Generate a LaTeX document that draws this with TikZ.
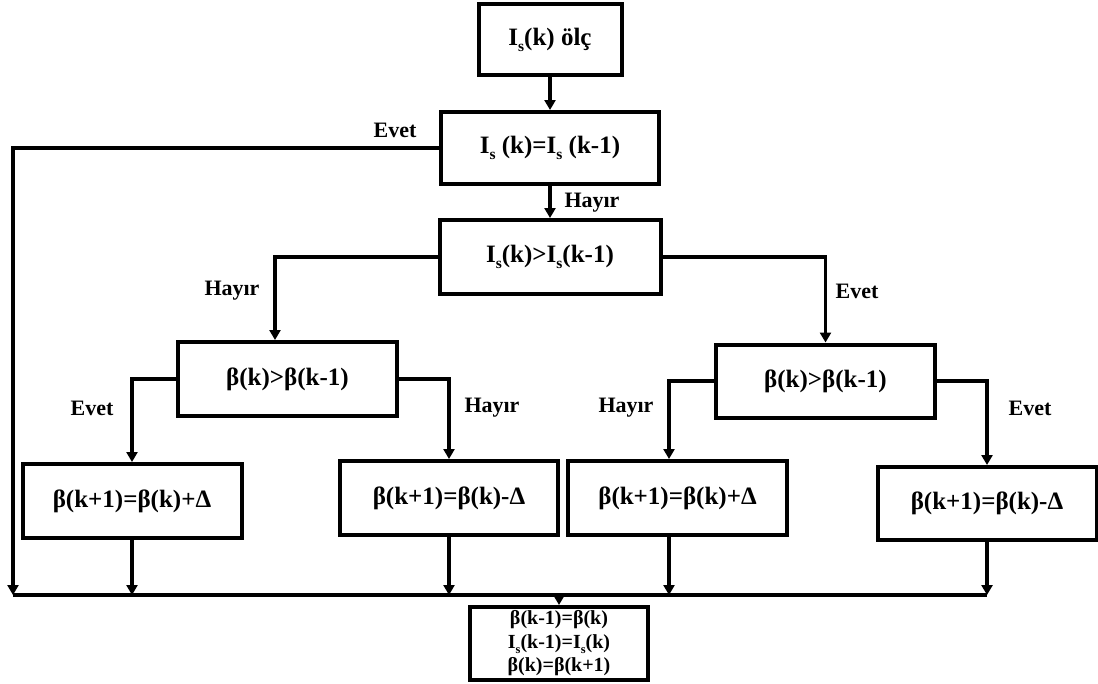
\documentclass[tikz,border=0pt]{standalone}
\usepackage{fontspec}
\usepackage{graphicx}
\setmainfont{Liberation Serif}
\usetikzlibrary{arrows.meta}
% lowered small index letter, as in I_s
\newcommand{\sidx}[1]{\raisebox{-0.24em}{\scalebox{0.62}{#1}}}
\begin{document}
\begin{tikzpicture}[x=1pt,y=-1pt,
  box/.style={draw, line width=4pt, inner sep=0pt, align=center,
    font=\bfseries\fontsize{25}{29}\selectfont},
  wire/.style={line width=3.3pt},
  conn/.style={line width=3.5pt, -{Triangle[width=11pt,length=10pt]}},
  lbl/.style={font=\bfseries\fontsize{22}{25}\selectfont, inner sep=0pt}]
\useasboundingbox (0,0) rectangle (1098,683);

% process and decision boxes
\node[box, minimum width=143pt, minimum height=71pt] (meas) at (550,39.5) {I\sidx{s}(k) ölç};
\node[box, minimum width=218pt, minimum height=72pt] (eq)   at (550,148) {I\sidx{s} (k)=I\sidx{s} (k-1)};
\node[box, minimum width=221pt, minimum height=74pt] (gt)   at (550,257) {I\sidx{s}(k)>I\sidx{s}(k-1)};
\node[box, minimum width=219pt, minimum height=74pt] (bl)   at (287.5,379) {β(k)>β(k-1)};
\node[box, minimum width=219pt, minimum height=73pt] (br)   at (825.5,381) {β(k)>β(k-1)};
\node[box, minimum width=219pt, minimum height=74pt] (u1)   at (132,501) {β(k+1)=β(k)+Δ};
\node[box, minimum width=218pt, minimum height=74pt] (u2)   at (449,498) {β(k+1)=β(k)-Δ};
\node[box, minimum width=219pt, minimum height=74pt] (u3)   at (677.5,498) {β(k+1)=β(k)+Δ};
\node[box, minimum width=219pt, minimum height=73pt] (u4)   at (987,503.5) {β(k+1)=β(k)-Δ};
\node[box, minimum width=178pt, minimum height=73pt,
      font=\bfseries\fontsize{20}{23.5}\selectfont] (upd) at (559,643.5)
      {β(k-1)=β(k)\\I\sidx{s}(k-1)=I\sidx{s}(k)\\β(k)=β(k+1)};

% column and bus reference points
\coordinate (c4) at (275,0);
\coordinate (c8) at (669,0);
\coordinate (busL) at (13,595);
\coordinate (busR) at (987,595);

% main flow
\draw[conn] (meas) -- (eq);
\draw[conn] (eq) -- (gt);
\draw[conn] (eq.west) -| (busL);
\draw[conn] (gt.west) -| (bl.north -| c4);
\draw[conn] (gt.east) -| (br.north);
\draw[conn] (bl.west) -| (u1.north);
\draw[conn] (bl.east) -| (u2.north);
\draw[conn] (br.west) -| (u3.north -| c8);
\draw[conn] (br.east) -| (u4.north);

% collecting bus
\draw[wire] (busL) -- (busR);
\draw[conn] (u1.south) -- (u1.south |- busL);
\draw[conn] (u2.south) -- (u2.south |- busL);
\draw[conn] (u3.south -| c8) -- (c8 |- busL);
\draw[conn] (u4.south) -- (busR);
\draw[conn] (upd.north |- busL) -- (upd.north);

% branch labels
\node[lbl] (l1) at (395,130) {Evet};
\node[lbl] (l2) at (592,203) {Hayır};
\node[lbl] (l3) at (232,291) {Hayır};
\node[lbl] (l4) at (857,291) {Evet};
\node[lbl] (l5) at (92,408) {Evet};
\node[lbl] (l6) at (492,408) {Hayır};
\node[lbl] (l7) at (626,408) {Hayır};
\node[lbl] (l8) at (1030,408) {Evet};
\end{tikzpicture}
\end{document}
